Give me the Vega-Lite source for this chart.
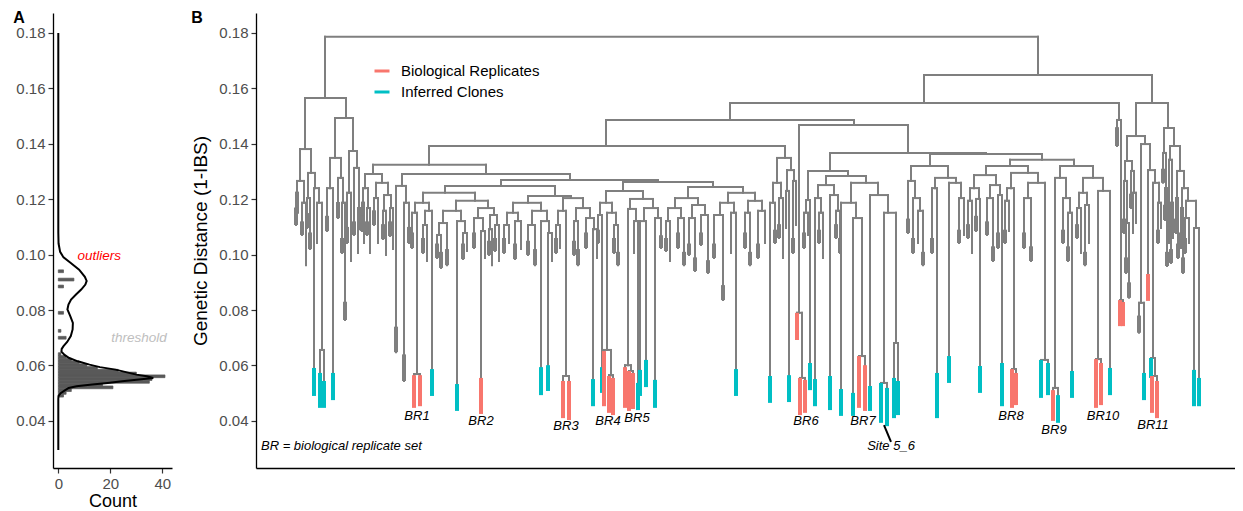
{
"$schema": "https://vega.github.io/schema/vega-lite/v6.json",
"background": "white",
"padding": {"left": 13, "top": 9, "right": 0, "bottom": 0},
"spacing": 19,
"config": {
 "view": {"stroke": null},
 "font": "Liberation Sans",
 "axis": {"domainColor": "black", "domainWidth": 1.3, "tickColor": "#333333", "tickWidth": 1.2, "tickSize": 5, "labelColor": "#4d4d4d", "labelFontSize": 15, "labelPadding": 3, "titleFontSize": 19, "titleFontWeight": "normal", "titleColor": "black", "grid": false, "labelFont": "Liberation Sans", "titleFont": "Liberation Sans"}
},
"datasets": {
 "hist": [
  {"lo":0.0486,"hi":0.0496,"n":2},{"lo":0.0496,"hi":0.0506,"n":3},{"lo":0.0506,"hi":0.0516,"n":5},{"lo":0.0516,"hi":0.0526,"n":21},{"lo":0.0526,"hi":0.0536,"n":17},{"lo":0.0536,"hi":0.0546,"n":35},{"lo":0.0546,"hi":0.0556,"n":36},{"lo":0.0556,"hi":0.0566,"n":41},{"lo":0.0566,"hi":0.0576,"n":30},{"lo":0.0576,"hi":0.0586,"n":23},{"lo":0.0586,"hi":0.0596,"n":15},{"lo":0.0596,"hi":0.0606,"n":11},{"lo":0.0606,"hi":0.0616,"n":8},{"lo":0.0616,"hi":0.0626,"n":5},{"lo":0.0626,"hi":0.0636,"n":3},{"lo":0.0636,"hi":0.0646,"n":1},
  {"lo":0.0695,"hi":0.0705,"n":3},{"lo":0.0720,"hi":0.0730,"n":1},{"lo":0.0785,"hi":0.0795,"n":2},{"lo":0.0880,"hi":0.0890,"n":2},{"lo":0.0905,"hi":0.0915,"n":6},{"lo":0.0935,"hi":0.0945,"n":2}
 ],
 "dens": [
  {"i":1,"d":0.0295,"n":0},{"i":2,"d":0.0480,"n":0},{"i":3,"d":0.0490,"n":0.1},{"i":4,"d":0.0500,"n":0.9},{"i":5,"d":0.0510,"n":2.5},{"i":6,"d":0.0519,"n":4},{"i":7,"d":0.0525,"n":7},{"i":8,"d":0.0531,"n":13},{"i":9,"d":0.0537,"n":19},{"i":10,"d":0.0543,"n":24.5},{"i":11,"d":0.0549,"n":31},{"i":12,"d":0.0555,"n":36.5},{"i":13,"d":0.0561,"n":34},{"i":14,"d":0.0567,"n":30},{"i":15,"d":0.0576,"n":26},{"i":16,"d":0.0585,"n":22},{"i":17,"d":0.0594,"n":16},{"i":18,"d":0.0603,"n":12},{"i":19,"d":0.0615,"n":7.5},{"i":20,"d":0.0627,"n":4.2},{"i":21,"d":0.0638,"n":2.4},{"i":22,"d":0.0650,"n":1.2},{"i":23,"d":0.0660,"n":1.3},{"i":24,"d":0.0670,"n":2},{"i":25,"d":0.0685,"n":3.4},{"i":26,"d":0.0706,"n":4.8},{"i":27,"d":0.0730,"n":5.5},{"i":28,"d":0.0754,"n":5.6},{"i":29,"d":0.0778,"n":4.6},{"i":30,"d":0.0802,"n":3.5},{"i":31,"d":0.0820,"n":3.9},{"i":32,"d":0.0838,"n":4.9},{"i":33,"d":0.0856,"n":6.8},{"i":34,"d":0.0874,"n":8.8},{"i":35,"d":0.0892,"n":10.4},{"i":36,"d":0.0905,"n":10.9},{"i":37,"d":0.0920,"n":10.2},{"i":38,"d":0.0946,"n":8},{"i":39,"d":0.0970,"n":4.8},{"i":40,"d":0.0990,"n":2},{"i":41,"d":0.1010,"n":0.7},{"i":42,"d":0.1040,"n":0.1},{"i":43,"d":0.1080,"n":0},{"i":44,"d":0.1800,"n":0}
 ],
 "tree": [
  {"a":327,"b":1040,"h":0.1786,"ha":0.1565,"hb":0.1648},
  {"a":307,"b":348,"h":0.1565,"ha":0.1381,"hb":0.1493},
  {"a":302,"b":313,"h":0.1381,"ha":0.1266,"hb":0.1295},
  {"a":299,"b":306,"h":0.1266,"ha":0.1223,"hb":0.1187},
  {"a":298,"b":300,"h":0.1223,"ha":0.1107,"hb":0.1151},
  {"a":304,"b":308,"h":0.1187,"ha":0.1071,"hb":0.0962},
  {"a":310,"b":317,"h":0.1295,"ha":0.1204,"hb":0.1240},
  {"a":309,"b":312,"h":0.1204,"ha":0.1096,"hb":0.1020},
  {"a":316,"b":321,"h":0.1240,"ha":0.0591,"hb":0.1187},
  {"a":319,"b":324,"h":0.1187,"ha":0.1042,"hb":0.0656},
  {"a":322,"b":326,"h":0.0656,"ha":0.0573,"hb":0.0544},
  {"a":337,"b":355,"h":0.1493,"ha":0.1349,"hb":0.1374},
  {"a":332,"b":343,"h":0.1349,"ha":0.1240,"hb":0.1277},
  {"a":329,"b":335,"h":0.1240,"ha":0.1085,"hb":0.0573},
  {"a":340,"b":345,"h":0.1277,"ha":0.1132,"hb":0.1187},
  {"a":344,"b":347,"h":0.1187,"ha":0.1006,"hb":0.0764},
  {"a":351,"b":359,"h":0.1374,"ha":0.1223,"hb":0.1313},
  {"a":349,"b":353,"h":0.1223,"ha":0.1042,"hb":0.0977},
  {"a":356,"b":361,"h":0.1313,"ha":0.1071,"hb":0.1168},
  {"a":360,"b":362,"h":0.1168,"ha":0.1006,"hb":0.1092},
  {"a":926,"b":1154,"h":0.1648,"ha":0.1547,"hb":0.1547},
  {"a":732,"b":1121,"h":0.1547,"ha":0.1486,"hb":0.1486},
  {"a":608,"b":856,"h":0.1486,"ha":0.1392,"hb":0.1468},
  {"a":431,"b":787,"h":0.1392,"ha":0.1324,"hb":0.1349},
  {"a":375,"b":488,"h":0.1324,"ha":0.1291,"hb":0.1291},
  {"a":367,"b":384,"h":0.1291,"ha":0.1240,"hb":0.1259},
  {"a":365,"b":370,"h":0.1240,"ha":0.1187,"hb":0.1168},
  {"a":364,"b":366,"h":0.1187,"ha":0.1085,"hb":0.1042},
  {"a":369,"b":372,"h":0.1168,"ha":0.1071,"hb":0.1006},
  {"a":378,"b":390,"h":0.1259,"ha":0.1204,"hb":0.1215},
  {"a":376,"b":380,"h":0.1204,"ha":0.1107,"hb":0.1042},
  {"a":386,"b":393,"h":0.1215,"ha":0.1158,"hb":0.1168},
  {"a":385,"b":388,"h":0.1158,"ha":0.1056,"hb":0.0999},
  {"a":392,"b":395,"h":0.1168,"ha":0.1067,"hb":0.1020},
  {"a":404,"b":572,"h":0.1291,"ha":0.1248,"hb":0.1269},
  {"a":398,"b":408,"h":0.1248,"ha":0.0648,"hb":0.1187},
  {"a":406,"b":411,"h":0.1187,"ha":0.0544,"hb":0.1042},
  {"a":503,"b":660,"h":0.1269,"ha":0.1248,"hb":0.1262},
  {"a":447,"b":557,"h":0.1248,"ha":0.1223,"hb":0.1212},
  {"a":425,"b":477,"h":0.1223,"ha":0.1187,"hb":0.1194},
  {"a":417,"b":431,"h":0.1187,"ha":0.1151,"hb":0.1158},
  {"a":414,"b":419,"h":0.1151,"ha":0.1024,"hb":0.0569},
  {"a":416,"b":422,"h":0.0569,"ha":0.0565,"hb":0.0565},
  {"a":427,"b":434,"h":0.1158,"ha":0.1107,"hb":0.0587},
  {"a":425,"b":429,"h":0.1107,"ha":0.1006,"hb":0.0977},
  {"a":458,"b":490,"h":0.1194,"ha":0.1158,"hb":0.1168},
  {"a":445,"b":463,"h":0.1158,"ha":0.1114,"hb":0.1121},
  {"a":441,"b":449,"h":0.1114,"ha":0.1071,"hb":0.0962},
  {"a":439,"b":443,"h":0.1071,"ha":0.0988,"hb":0.0952},
  {"a":459,"b":467,"h":0.1121,"ha":0.0533,"hb":0.1078},
  {"a":465,"b":469,"h":0.1078,"ha":0.0984,"hb":0.1013},
  {"a":480,"b":496,"h":0.1168,"ha":0.1132,"hb":0.1143},
  {"a":476,"b":485,"h":0.1132,"ha":0.1024,"hb":0.1085},
  {"a":483,"b":487,"h":0.1085,"ha":0.0555,"hb":0.0988},
  {"a":492,"b":499,"h":0.1143,"ha":0.1092,"hb":0.1107},
  {"a":491,"b":494,"h":0.1092,"ha":0.0999,"hb":0.0962},
  {"a":497,"b":501,"h":0.1107,"ha":0.1013,"hb":0.0977},
  {"a":530,"b":573,"h":0.1212,"ha":0.1187,"hb":0.1204},
  {"a":515,"b":543,"h":0.1187,"ha":0.1151,"hb":0.1158},
  {"a":509,"b":520,"h":0.1151,"ha":0.1107,"hb":0.1121},
  {"a":506,"b":511,"h":0.1107,"ha":0.1006,"hb":0.1042},
  {"a":517,"b":523,"h":0.1121,"ha":0.0984,"hb":0.1020},
  {"a":534,"b":549,"h":0.1158,"ha":0.1107,"hb":0.1121},
  {"a":530,"b":537,"h":0.1107,"ha":0.0999,"hb":0.0962},
  {"a":543,"b":551,"h":0.1121,"ha":0.0594,"hb":0.1078},
  {"a":550,"b":554,"h":0.1078,"ha":0.0601,"hb":0.0977},
  {"a":565,"b":585,"h":0.1204,"ha":0.1158,"hb":0.1168},
  {"a":560,"b":568,"h":0.1158,"ha":0.1107,"hb":0.0562},
  {"a":558,"b":562,"h":0.1107,"ha":0.1006,"hb":0.1024},
  {"a":565,"b":571,"h":0.0562,"ha":0.0544,"hb":0.0544},
  {"a":578,"b":592,"h":0.1168,"ha":0.1121,"hb":0.1132},
  {"a":576,"b":580,"h":0.1121,"ha":0.0999,"hb":0.0962},
  {"a":588,"b":596,"h":0.1132,"ha":0.1024,"hb":0.1092},
  {"a":595,"b":599,"h":0.1092,"ha":0.0551,"hb":0.0988},
  {"a":625,"b":715,"h":0.1262,"ha":0.1230,"hb":0.1244},
  {"a":608,"b":645,"h":0.1230,"ha":0.1187,"hb":0.1201},
  {"a":602,"b":614,"h":0.1187,"ha":0.1143,"hb":0.1151},
  {"a":600,"b":604,"h":0.1143,"ha":0.1042,"hb":0.0594},
  {"a":609,"b":618,"h":0.1151,"ha":0.0656,"hb":0.1107},
  {"a":606,"b":613,"h":0.0656,"ha":0.0652,"hb":0.0565},
  {"a":611,"b":615,"h":0.0565,"ha":0.0562,"hb":0.0555},
  {"a":616,"b":620,"h":0.1107,"ha":0.1006,"hb":0.0962},
  {"a":632,"b":655,"h":0.1201,"ha":0.1165,"hb":0.1168},
  {"a":630,"b":638,"h":0.1165,"ha":0.0601,"hb":0.1121},
  {"a":627,"b":633,"h":0.0601,"ha":0.0594,"hb":0.0580},
  {"a":631,"b":635,"h":0.0580,"ha":0.0580,"hb":0.0573},
  {"a":636,"b":640,"h":0.1121,"ha":0.1006,"hb":0.0537},
  {"a":646,"b":660,"h":0.1168,"ha":0.1121,"hb":0.1132},
  {"a":642,"b":648,"h":0.1121,"ha":0.0584,"hb":0.0620},
  {"a":657,"b":663,"h":0.1132,"ha":0.0548,"hb":0.1024},
  {"a":690,"b":745,"h":0.1244,"ha":0.1204,"hb":0.1223},
  {"a":677,"b":700,"h":0.1204,"ha":0.1168,"hb":0.1179},
  {"a":670,"b":683,"h":0.1168,"ha":0.1121,"hb":0.1132},
  {"a":668,"b":672,"h":0.1121,"ha":0.1013,"hb":0.0977},
  {"a":680,"b":686,"h":0.1132,"ha":0.1024,"hb":0.0962},
  {"a":694,"b":707,"h":0.1179,"ha":0.1132,"hb":0.1143},
  {"a":691,"b":697,"h":0.1132,"ha":0.0999,"hb":0.0941},
  {"a":703,"b":710,"h":0.1143,"ha":0.1035,"hb":0.0934},
  {"a":730,"b":757,"h":0.1223,"ha":0.1187,"hb":0.1194},
  {"a":722,"b":736,"h":0.1187,"ha":0.1143,"hb":0.1151},
  {"a":716,"b":725,"h":0.1143,"ha":0.0988,"hb":0.0836},
  {"a":733,"b":738,"h":0.1151,"ha":0.1006,"hb":0.0587},
  {"a":750,"b":764,"h":0.1194,"ha":0.1151,"hb":0.1158},
  {"a":747,"b":752,"h":0.1151,"ha":0.1024,"hb":0.0962},
  {"a":760,"b":767,"h":0.1158,"ha":0.0988,"hb":0.1042},
  {"a":779,"b":793,"h":0.1349,"ha":0.1259,"hb":0.1305},
  {"a":775,"b":783,"h":0.1259,"ha":0.1187,"hb":0.1204},
  {"a":772,"b":777,"h":0.1187,"ha":0.0562,"hb":0.1042},
  {"a":781,"b":785,"h":0.1204,"ha":0.1060,"hb":0.0988},
  {"a":789,"b":796,"h":0.1305,"ha":0.1230,"hb":0.1266},
  {"a":788,"b":791,"h":0.1230,"ha":0.1096,"hb":0.0565},
  {"a":795,"b":798,"h":0.1266,"ha":0.1006,"hb":0.1107},
  {"a":801,"b":910,"h":0.1468,"ha":0.0790,"hb":0.1367},
  {"a":799,"b":804,"h":0.0790,"ha":0.0790,"hb":0.0555},
  {"a":802,"b":807,"h":0.0555,"ha":0.0555,"hb":0.0548},
  {"a":832,"b":988,"h":0.1367,"ha":0.1302,"hb":0.1363},
  {"a":810,"b":850,"h":0.1302,"ha":0.1197,"hb":0.1284},
  {"a":808,"b":812,"h":0.1197,"ha":0.1151,"hb":0.0609},
  {"a":806,"b":810,"h":0.1151,"ha":0.1024,"hb":0.1071},
  {"a":828,"b":868,"h":0.1284,"ha":0.1251,"hb":0.1259},
  {"a":820,"b":836,"h":0.1251,"ha":0.1204,"hb":0.1215},
  {"a":817,"b":823,"h":0.1204,"ha":0.0551,"hb":0.1151},
  {"a":821,"b":825,"h":0.1151,"ha":0.1042,"hb":0.0988},
  {"a":832,"b":840,"h":0.1215,"ha":0.0562,"hb":0.1158},
  {"a":838,"b":842,"h":0.1158,"ha":0.1060,"hb":0.1006},
  {"a":853,"b":880,"h":0.1259,"ha":0.1187,"hb":0.1215},
  {"a":843,"b":858,"h":0.1187,"ha":0.0515,"hb":0.1132},
  {"a":855,"b":864,"h":0.1132,"ha":0.0501,"hb":0.0634},
  {"a":861,"b":867,"h":0.0634,"ha":0.0634,"hb":0.0601},
  {"a":872,"b":890,"h":0.1215,"ha":0.0526,"hb":0.1151},
  {"a":886,"b":898,"h":0.1151,"ha":0.0537,"hb":0.0681},
  {"a":883,"b":889,"h":0.0537,"ha":0.0537,"hb":0.0519},
  {"a":896,"b":900,"h":0.0681,"ha":0.0555,"hb":0.0544},
  {"a":932,"b":1044,"h":0.1363,"ha":0.1320,"hb":0.1342},
  {"a":913,"b":950,"h":0.1320,"ha":0.1266,"hb":0.1277},
  {"a":910,"b":917,"h":0.1266,"ha":0.1078,"hb":0.1204},
  {"a":915,"b":922,"h":0.1204,"ha":0.1006,"hb":0.1158},
  {"a":920,"b":925,"h":0.1158,"ha":0.1042,"hb":0.0962},
  {"a":937,"b":958,"h":0.1277,"ha":0.1240,"hb":0.1259},
  {"a":934,"b":939,"h":0.1240,"ha":0.1006,"hb":0.0573},
  {"a":951,"b":963,"h":0.1259,"ha":0.0634,"hb":0.1204},
  {"a":961,"b":966,"h":0.1204,"ha":0.1042,"hb":0.1071},
  {"a":1012,"b":1076,"h":0.1342,"ha":0.1320,"hb":0.1320},
  {"a":988,"b":1030,"h":0.1320,"ha":0.1287,"hb":0.1295},
  {"a":976,"b":998,"h":0.1287,"ha":0.1240,"hb":0.1251},
  {"a":972,"b":981,"h":0.1240,"ha":0.1194,"hb":0.1201},
  {"a":970,"b":974,"h":0.1194,"ha":0.1060,"hb":0.1006},
  {"a":978,"b":982,"h":0.1201,"ha":0.1085,"hb":0.0598},
  {"a":992,"b":1002,"h":0.1251,"ha":0.1204,"hb":0.1215},
  {"a":989,"b":995,"h":0.1204,"ha":0.1071,"hb":0.0977},
  {"a":1000,"b":1004,"h":0.1215,"ha":0.1024,"hb":0.0609},
  {"a":1013,"b":1040,"h":0.1295,"ha":0.1240,"hb":0.1259},
  {"a":1009,"b":1016,"h":0.1240,"ha":0.1194,"hb":0.0587},
  {"a":1007,"b":1011,"h":0.1194,"ha":0.1042,"hb":0.1085},
  {"a":1014,"b":1018,"h":0.0587,"ha":0.0587,"hb":0.0573},
  {"a":1030,"b":1047,"h":0.1259,"ha":0.1204,"hb":0.0620},
  {"a":1026,"b":1033,"h":0.1204,"ha":0.1024,"hb":0.0977},
  {"a":1043,"b":1050,"h":0.0620,"ha":0.0620,"hb":0.0609},
  {"a":1062,"b":1095,"h":0.1320,"ha":0.1277,"hb":0.1277},
  {"a":1057,"b":1068,"h":0.1277,"ha":0.0519,"hb":0.1204},
  {"a":1055,"b":1060,"h":0.0519,"ha":0.0511,"hb":0.0493},
  {"a":1065,"b":1072,"h":0.1204,"ha":0.1042,"hb":0.1151},
  {"a":1070,"b":1074,"h":0.1151,"ha":0.0977,"hb":0.0580},
  {"a":1085,"b":1105,"h":0.1277,"ha":0.1223,"hb":0.1230},
  {"a":1081,"b":1089,"h":0.1223,"ha":0.1168,"hb":0.1179},
  {"a":1079,"b":1083,"h":0.1168,"ha":0.1060,"hb":0.1006},
  {"a":1087,"b":1091,"h":0.1179,"ha":0.0962,"hb":0.1042},
  {"a":1100,"b":1112,"h":0.1230,"ha":0.0623,"hb":0.0591},
  {"a":1098,"b":1103,"h":0.0623,"ha":0.0623,"hb":0.0609},
  {"a":1119,"b":1123,"h":0.1486,"ha":0.1392,"hb":0.0836},
  {"a":1122,"b":1125,"h":0.0836,"ha":0.0836,"hb":0.0829},
  {"a":1138,"b":1170,"h":0.1547,"ha":0.1428,"hb":0.1457},
  {"a":1129,"b":1147,"h":0.1428,"ha":0.1338,"hb":0.1399},
  {"a":1127,"b":1134,"h":0.1338,"ha":0.1266,"hb":0.1302},
  {"a":1126,"b":1129,"h":0.1266,"ha":0.1078,"hb":0.1114},
  {"a":1128,"b":1131,"h":0.1114,"ha":0.0934,"hb":0.0844},
  {"a":1133,"b":1136,"h":0.1302,"ha":0.1168,"hb":0.1223},
  {"a":1135,"b":1138,"h":0.1223,"ha":0.1078,"hb":0.1114},
  {"a":1143,"b":1152,"h":0.1399,"ha":0.0826,"hb":0.1305},
  {"a":1141,"b":1146,"h":0.0826,"ha":0.0718,"hb":0.0573},
  {"a":1150,"b":1157,"h":0.1305,"ha":0.0930,"hb":0.1259},
  {"a":1155,"b":1161,"h":0.1259,"ha":0.0627,"hb":0.1187},
  {"a":1153,"b":1157,"h":0.0627,"ha":0.0627,"hb":0.0562},
  {"a":1154,"b":1159,"h":0.0562,"ha":0.0562,"hb":0.0544},
  {"a":1160,"b":1163,"h":0.1187,"ha":0.1042,"hb":0.1096},
  {"a":1166,"b":1176,"h":0.1457,"ha":0.1367,"hb":0.1392},
  {"a":1165,"b":1168,"h":0.1367,"ha":0.1259,"hb":0.1240},
  {"a":1167,"b":1169,"h":0.1240,"ha":0.1125,"hb":0.0959},
  {"a":1172,"b":1182,"h":0.1392,"ha":0.1342,"hb":0.1302},
  {"a":1171,"b":1174,"h":0.1342,"ha":0.1042,"hb":0.1187},
  {"a":1173,"b":1175,"h":0.1187,"ha":0.0970,"hb":0.1060},
  {"a":1179,"b":1186,"h":0.1302,"ha":0.1204,"hb":0.1240},
  {"a":1178,"b":1180,"h":0.1204,"ha":0.1078,"hb":0.0988},
  {"a":1184,"b":1190,"h":0.1240,"ha":0.1168,"hb":0.1194},
  {"a":1183,"b":1185,"h":0.1168,"ha":0.1024,"hb":0.0934},
  {"a":1188,"b":1198,"h":0.1194,"ha":0.1132,"hb":0.1096},
  {"a":1187,"b":1191,"h":0.1132,"ha":0.1006,"hb":0.1042},
  {"a":1196,"b":1201,"h":0.1096,"ha":0.0584,"hb":0.0555}
 ],
 "stubs": [
  {"x":298,"t":0.1170,"bo":0.1107},{"x":304,"t":0.1120,"bo":0.1071},{"x":309,"t":0.1150,"bo":0.1096},{"x":312,"t":0.1080,"bo":0.1020},{"x":329,"t":0.1140,"bo":0.1085},{"x":340,"t":0.1190,"bo":0.1132},{"x":344,"t":0.1060,"bo":0.1006},{"x":347,"t":0.0830,"bo":0.0764},{"x":349,"t":0.1100,"bo":0.1042},{"x":356,"t":0.1120,"bo":0.1071},
  {"x":364,"t":0.1140,"bo":0.1085},{"x":369,"t":0.1120,"bo":0.1071},{"x":376,"t":0.1160,"bo":0.1107},{"x":385,"t":0.1110,"bo":0.1056},{"x":392,"t":0.1120,"bo":0.1067},{"x":398,"t":0.0740,"bo":0.0648},{"x":406,"t":0.0640,"bo":0.0544},{"x":411,"t":0.1100,"bo":0.1042},{"x":414,"t":0.1080,"bo":0.1024},{"x":425,"t":0.1060,"bo":0.1006},
  {"x":439,"t":0.1040,"bo":0.0988},{"x":443,"t":0.1010,"bo":0.0952},{"x":449,"t":0.1020,"bo":0.0962},{"x":465,"t":0.1040,"bo":0.0984},{"x":476,"t":0.1080,"bo":0.1024},{"x":491,"t":0.1050,"bo":0.0999},{"x":497,"t":0.1060,"bo":0.1013},{"x":506,"t":0.1060,"bo":0.1006},{"x":517,"t":0.1040,"bo":0.0984},{"x":530,"t":0.1050,"bo":0.0999},
  {"x":537,"t":0.1020,"bo":0.0962},{"x":558,"t":0.1060,"bo":0.1006},{"x":576,"t":0.1050,"bo":0.0999},{"x":580,"t":0.1020,"bo":0.0962},{"x":588,"t":0.1080,"bo":0.1024},{"x":600,"t":0.1090,"bo":0.1042},{"x":616,"t":0.1060,"bo":0.1006},{"x":620,"t":0.1010,"bo":0.0962},{"x":663,"t":0.1070,"bo":0.1024},{"x":668,"t":0.1060,"bo":0.1013},
  {"x":680,"t":0.1080,"bo":0.1024},{"x":686,"t":0.1010,"bo":0.0962},{"x":691,"t":0.1040,"bo":0.0999},{"x":697,"t":0.0990,"bo":0.0941},{"x":703,"t":0.1080,"bo":0.1035},{"x":710,"t":0.0980,"bo":0.0934},{"x":716,"t":0.1040,"bo":0.0988},{"x":725,"t":0.0890,"bo":0.0836},{"x":747,"t":0.1080,"bo":0.1024},{"x":752,"t":0.1010,"bo":0.0962},
  {"x":760,"t":0.1040,"bo":0.0988},{"x":777,"t":0.1090,"bo":0.1042},{"x":781,"t":0.1110,"bo":0.1060},{"x":795,"t":0.1060,"bo":0.1006},{"x":806,"t":0.1080,"bo":0.1024},{"x":821,"t":0.1090,"bo":0.1042},{"x":838,"t":0.1110,"bo":0.1060},{"x":842,"t":0.1060,"bo":0.1006},{"x":910,"t":0.1130,"bo":0.1078},{"x":915,"t":0.1060,"bo":0.1006},
  {"x":925,"t":0.1010,"bo":0.0962},{"x":934,"t":0.1060,"bo":0.1006},{"x":961,"t":0.1090,"bo":0.1042},{"x":970,"t":0.1110,"bo":0.1060},{"x":978,"t":0.1140,"bo":0.1085},{"x":989,"t":0.1120,"bo":0.1071},{"x":995,"t":0.1030,"bo":0.0977},{"x":1000,"t":0.1080,"bo":0.1024},{"x":1007,"t":0.1090,"bo":0.1042},{"x":1026,"t":0.1080,"bo":0.1024},
  {"x":1033,"t":0.1030,"bo":0.0977},{"x":1065,"t":0.1090,"bo":0.1042},{"x":1070,"t":0.1030,"bo":0.0977},{"x":1079,"t":0.1110,"bo":0.1060},{"x":1087,"t":0.1010,"bo":0.0962},{"x":1119,"t":0.1460,"bo":0.1392},{"x":1126,"t":0.1130,"bo":0.1078},{"x":1128,"t":0.0990,"bo":0.0934},{"x":1131,"t":0.0900,"bo":0.0844},{"x":1133,"t":0.1220,"bo":0.1168},
  {"x":1141,"t":0.0780,"bo":0.0718},{"x":1160,"t":0.1090,"bo":0.1042},{"x":1165,"t":0.1310,"bo":0.1259},{"x":1167,"t":0.1180,"bo":0.1125},{"x":1169,"t":0.1010,"bo":0.0959},{"x":1171,"t":0.1100,"bo":0.1042},{"x":1173,"t":0.1020,"bo":0.0970},{"x":1178,"t":0.1130,"bo":0.1078},{"x":1180,"t":0.1040,"bo":0.0988},{"x":1183,"t":0.1080,"bo":0.1024},
  {"x":1185,"t":0.0990,"bo":0.0934},{"x":1187,"t":0.1060,"bo":0.1006}
 ],
 "tips": [
  {"x":316,"t":0.0591,"bo":0.0490,"g":"Inferred Clones"},
  {"x":322,"t":0.0573,"bo":0.0447,"g":"Inferred Clones"},
  {"x":326,"t":0.0544,"bo":0.0447,"g":"Inferred Clones"},
  {"x":335,"t":0.0573,"bo":0.0475,"g":"Inferred Clones"},
  {"x":434,"t":0.0587,"bo":0.0490,"g":"Inferred Clones"},
  {"x":459,"t":0.0533,"bo":0.0436,"g":"Inferred Clones"},
  {"x":543,"t":0.0594,"bo":0.0493,"g":"Inferred Clones"},
  {"x":550,"t":0.0601,"bo":0.0508,"g":"Inferred Clones"},
  {"x":595,"t":0.0551,"bo":0.0453,"g":"Inferred Clones"},
  {"x":604,"t":0.0594,"bo":0.0501,"g":"Inferred Clones"},
  {"x":640,"t":0.0537,"bo":0.0439,"g":"Inferred Clones"},
  {"x":642,"t":0.0584,"bo":0.0490,"g":"Inferred Clones"},
  {"x":648,"t":0.0620,"bo":0.0522,"g":"Inferred Clones"},
  {"x":657,"t":0.0548,"bo":0.0447,"g":"Inferred Clones"},
  {"x":738,"t":0.0587,"bo":0.0490,"g":"Inferred Clones"},
  {"x":772,"t":0.0562,"bo":0.0465,"g":"Inferred Clones"},
  {"x":791,"t":0.0565,"bo":0.0468,"g":"Inferred Clones"},
  {"x":812,"t":0.0609,"bo":0.0511,"g":"Inferred Clones"},
  {"x":817,"t":0.0551,"bo":0.0453,"g":"Inferred Clones"},
  {"x":832,"t":0.0562,"bo":0.0439,"g":"Inferred Clones"},
  {"x":843,"t":0.0515,"bo":0.0418,"g":"Inferred Clones"},
  {"x":855,"t":0.0501,"bo":0.0418,"g":"Inferred Clones"},
  {"x":872,"t":0.0526,"bo":0.0436,"g":"Inferred Clones"},
  {"x":883,"t":0.0537,"bo":0.0393,"g":"Inferred Clones"},
  {"x":889,"t":0.0519,"bo":0.0381,"g":"Inferred Clones"},
  {"x":896,"t":0.0555,"bo":0.0410,"g":"Inferred Clones"},
  {"x":900,"t":0.0544,"bo":0.0421,"g":"Inferred Clones"},
  {"x":939,"t":0.0573,"bo":0.0410,"g":"Inferred Clones"},
  {"x":951,"t":0.0634,"bo":0.0537,"g":"Inferred Clones"},
  {"x":982,"t":0.0598,"bo":0.0501,"g":"Inferred Clones"},
  {"x":1004,"t":0.0609,"bo":0.0453,"g":"Inferred Clones"},
  {"x":1043,"t":0.0620,"bo":0.0483,"g":"Inferred Clones"},
  {"x":1050,"t":0.0609,"bo":0.0493,"g":"Inferred Clones"},
  {"x":1060,"t":0.0493,"bo":0.0393,"g":"Inferred Clones"},
  {"x":1074,"t":0.0580,"bo":0.0483,"g":"Inferred Clones"},
  {"x":1112,"t":0.0591,"bo":0.0493,"g":"Inferred Clones"},
  {"x":1146,"t":0.0573,"bo":0.0475,"g":"Inferred Clones"},
  {"x":1153,"t":0.0627,"bo":0.0555,"g":"Inferred Clones"},
  {"x":1196,"t":0.0584,"bo":0.0453,"g":"Inferred Clones"},
  {"x":1201,"t":0.0555,"bo":0.0453,"g":"Inferred Clones"},
  {"x":416,"t":0.0565,"bo":0.0447,"g":"Biological Replicates"},
  {"x":422,"t":0.0565,"bo":0.0453,"g":"Biological Replicates"},
  {"x":483,"t":0.0555,"bo":0.0425,"g":"Biological Replicates"},
  {"x":565,"t":0.0544,"bo":0.0410,"g":"Biological Replicates"},
  {"x":571,"t":0.0544,"bo":0.0403,"g":"Biological Replicates"},
  {"x":606,"t":0.0652,"bo":0.0453,"g":"Biological Replicates"},
  {"x":611,"t":0.0562,"bo":0.0429,"g":"Biological Replicates"},
  {"x":615,"t":0.0555,"bo":0.0421,"g":"Biological Replicates"},
  {"x":627,"t":0.0594,"bo":0.0447,"g":"Biological Replicates"},
  {"x":631,"t":0.0580,"bo":0.0436,"g":"Biological Replicates"},
  {"x":635,"t":0.0573,"bo":0.0443,"g":"Biological Replicates"},
  {"x":799,"t":0.0790,"bo":0.0692,"g":"Biological Replicates"},
  {"x":802,"t":0.0555,"bo":0.0421,"g":"Biological Replicates"},
  {"x":807,"t":0.0548,"bo":0.0429,"g":"Biological Replicates"},
  {"x":861,"t":0.0634,"bo":0.0447,"g":"Biological Replicates"},
  {"x":867,"t":0.0601,"bo":0.0436,"g":"Biological Replicates"},
  {"x":1014,"t":0.0587,"bo":0.0447,"g":"Biological Replicates"},
  {"x":1018,"t":0.0573,"bo":0.0457,"g":"Biological Replicates"},
  {"x":1055,"t":0.0511,"bo":0.0400,"g":"Biological Replicates"},
  {"x":1098,"t":0.0623,"bo":0.0447,"g":"Biological Replicates"},
  {"x":1103,"t":0.0609,"bo":0.0457,"g":"Biological Replicates"},
  {"x":1122,"t":0.0836,"bo":0.0742,"g":"Biological Replicates"},
  {"x":1125,"t":0.0829,"bo":0.0742,"g":"Biological Replicates"},
  {"x":1150,"t":0.0930,"bo":0.0833,"g":"Biological Replicates"},
  {"x":1154,"t":0.0562,"bo":0.0429,"g":"Biological Replicates"},
  {"x":1159,"t":0.0544,"bo":0.0410,"g":"Biological Replicates"}
 ],
 "labels": [
  {"x":419,"y":0.0417,"t":"BR1"},{"x":483,"y":0.0400,"t":"BR2"},{"x":568,"y":0.0381,"t":"BR3"},{"x":610,"y":0.0400,"t":"BR4"},{"x":639,"y":0.0410,"t":"BR5"},{"x":808,"y":0.0400,"t":"BR6"},{"x":865,"y":0.0400,"t":"BR7"},{"x":893,"y":0.0309,"t":"Site 5_6"},{"x":1013,"y":0.0417,"t":"BR8"},{"x":1056,"y":0.0367,"t":"BR9"},{"x":1105,"y":0.0417,"t":"BR10"},{"x":1155,"y":0.0385,"t":"BR11"}
 ]
},
"hconcat": [
 {
  "width": 119, "height": 455,
  "layer": [
   {"data": {"name": "hist"}, "mark": {"type": "rect", "color": "#595959", "stroke": "#595959", "strokeWidth": 0.7},
    "encoding": {
     "x": {"field": "n", "type": "quantitative", "scale": {"domain": [-2.04, 43.7], "nice": false, "zero": false}, "axis": {"values": [0,10,20,30,40], "title": "Count", "titlePadding": 1, "titleFontSize": 18}},
     "x2": {"datum": 0},
     "y": {"field": "lo", "type": "quantitative", "scale": {"domain": [0.023, 0.1872], "nice": false, "zero": false}, "axis": {"values": [0.04,0.06,0.08,0.10,0.12,0.14,0.16,0.18], "format": ".2f", "title": null}},
     "y2": {"field": "hi"}}},
   {"mark": {"type": "rule", "color": "#BEBEBE", "strokeWidth": 2, "strokeDash": [12,7]}, "encoding": {"y": {"datum": 0.064}}},
   {"mark": {"type": "rule", "color": "black", "strokeWidth": 2}, "encoding": {"x": {"datum": 0}, "y": {"datum": 0.0295}, "y2": {"datum": 0.18}}},
   {"data": {"name": "dens"}, "mark": {"type": "line", "color": "black", "strokeWidth": 2}, "encoding": {"x": {"field": "n", "type": "quantitative"}, "y": {"field": "d", "type": "quantitative"}, "order": {"field": "i", "type": "quantitative"}}},
   {"data": {"values": [{"x": 15.7, "y": 0.0996, "t": "outliers"}]}, "mark": {"type": "text", "fontStyle": "italic", "fontSize": 13.5, "color": "#FF0000"}, "encoding": {"x": {"field": "x", "type": "quantitative"}, "y": {"field": "y", "type": "quantitative"}, "text": {"field": "t"}}},
   {"data": {"values": [{"x": 31, "y": 0.0700, "t": "threshold"}]}, "mark": {"type": "text", "fontStyle": "italic", "fontSize": 13.5, "color": "#BEBEBE"}, "encoding": {"x": {"field": "x", "type": "quantitative"}, "y": {"field": "y", "type": "quantitative"}, "text": {"field": "t"}}},
   {"data": {"values": [{"x": -15.1, "y": 0.1836, "t": "A"}]}, "mark": {"type": "text", "fontWeight": "bold", "fontSize": 16, "color": "black", "baseline": "alphabetic"}, "encoding": {"x": {"field": "x", "type": "quantitative"}, "y": {"field": "y", "type": "quantitative"}, "text": {"field": "t"}}}
  ]
 },
 {
  "width": 979, "height": 455,
  "layer": [
   {"data": {"name": "tree"}, "mark": {"type": "rule", "color": "#7F7F7F", "strokeWidth": 2, "strokeCap": "square"},
    "encoding": {
     "x": {"field": "a", "type": "quantitative", "scale": {"domain": [258, 1237], "nice": false, "zero": false}, "axis": {"labels": false, "ticks": false, "title": null}},
     "y": {"field": "ha", "type": "quantitative", "scale": {"domain": [0.023, 0.1872], "nice": false, "zero": false}, "axis": {"values": [0.04,0.06,0.08,0.10,0.12,0.14,0.16,0.18], "format": ".2f", "title": "Genetic Distance (1-IBS)", "titlePadding": 8}},
     "y2": {"field": "h"}}},
   {"data": {"name": "tree"}, "mark": {"type": "rule", "color": "#7F7F7F", "strokeWidth": 2, "strokeCap": "square"},
    "encoding": {"x": {"field": "b", "type": "quantitative"}, "y": {"field": "hb", "type": "quantitative"}, "y2": {"field": "h"}}},
   {"data": {"name": "tree"}, "mark": {"type": "rule", "color": "#7F7F7F", "strokeWidth": 2, "strokeCap": "square"},
    "encoding": {"x": {"field": "a", "type": "quantitative"}, "x2": {"field": "b"}, "y": {"field": "h", "type": "quantitative"}}},
   {"data": {"name": "stubs"}, "mark": {"type": "rule", "color": "#7F7F7F", "strokeWidth": 4},
    "encoding": {"x": {"field": "x", "type": "quantitative"}, "y": {"field": "t", "type": "quantitative"}, "y2": {"field": "bo"}}},
   {"mark": {"type": "rule", "color": "#BEBEBE", "strokeWidth": 2, "strokeDash": [12,7]}, "encoding": {"y": {"datum": 0.064}}},
   {"data": {"name": "tips"}, "mark": {"type": "rule", "strokeWidth": 4},
    "encoding": {"x": {"field": "x", "type": "quantitative"}, "y": {"field": "t", "type": "quantitative"}, "y2": {"field": "bo"},
     "color": {"field": "g", "type": "nominal", "scale": {"domain": ["Biological Replicates", "Inferred Clones"], "range": ["#F8766D", "#00BFC4"]},
      "legend": {"title": null, "orient": "none", "legendX": 320, "legendY": 49, "symbolType": "stroke", "symbolStrokeWidth": 3, "symbolSize": 225, "labelFontSize": 15, "labelColor": "black", "labelFont": "Liberation Sans", "rowPadding": 4, "padding": 0, "labelOffset": 10}}}},
   {"data": {"name": "labels"}, "mark": {"type": "text", "fontStyle": "italic", "fontSize": 13, "color": "black"},
    "encoding": {"x": {"field": "x", "type": "quantitative"}, "y": {"field": "y", "type": "quantitative"}, "text": {"field": "t"}}},
   {"data": {"values": [{"x": 263, "y": 0.0309, "t": "BR = biological replicate set"}]}, "mark": {"type": "text", "fontStyle": "italic", "fontSize": 13, "color": "black", "align": "left"},
    "encoding": {"x": {"field": "x", "type": "quantitative"}, "y": {"field": "y", "type": "quantitative"}, "text": {"field": "t"}}},
   {"data": {"values": [{"x": 886, "x2": 893, "y": 0.0385, "y2": 0.0324}]}, "mark": {"type": "rule", "color": "black", "strokeWidth": 2},
    "encoding": {"x": {"field": "x", "type": "quantitative"}, "x2": {"field": "x2"}, "y": {"field": "y", "type": "quantitative"}, "y2": {"field": "y2"}}},
   {"data": {"values": [{"x": 199, "y": 0.1836, "t": "B"}]}, "mark": {"type": "text", "fontWeight": "bold", "fontSize": 16, "color": "black", "baseline": "alphabetic"},
    "encoding": {"x": {"field": "x", "type": "quantitative"}, "y": {"field": "y", "type": "quantitative"}, "text": {"field": "t"}}}
  ]
 }
]
}
